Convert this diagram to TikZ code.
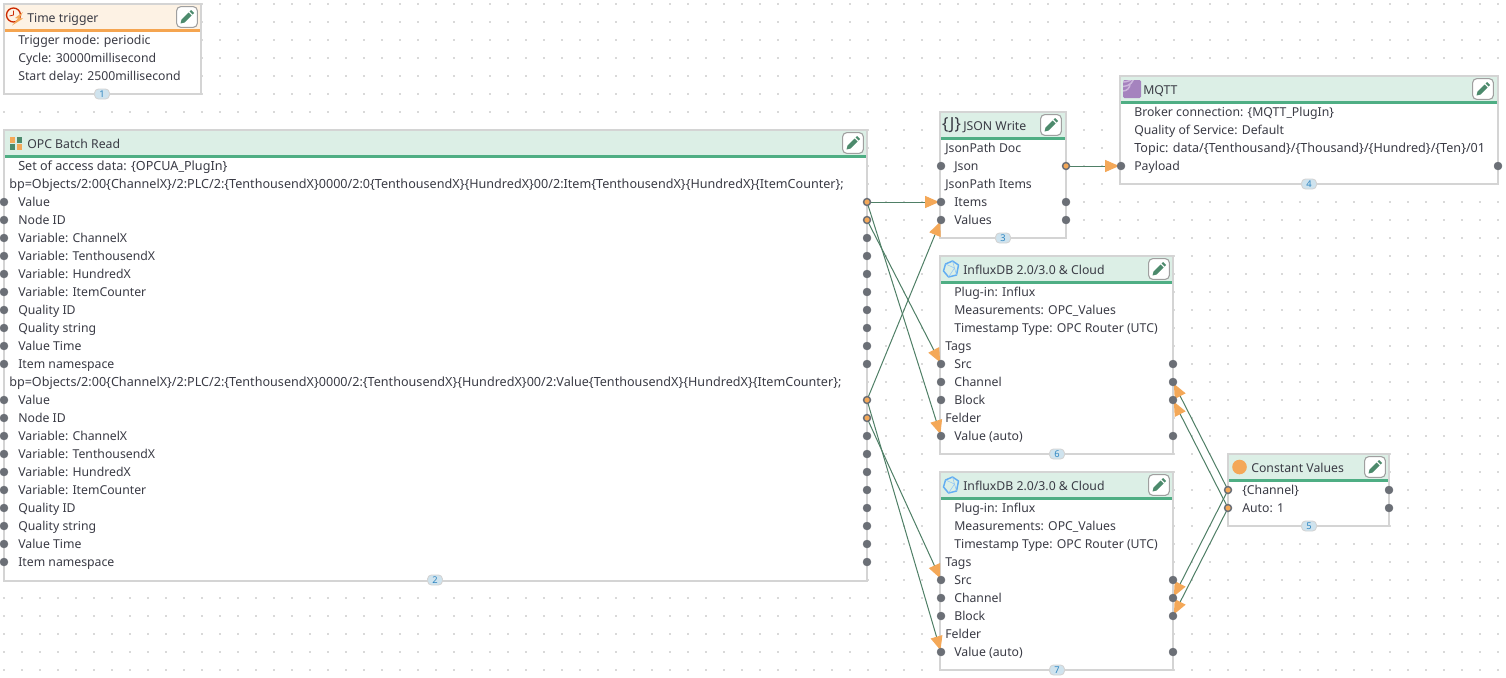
\documentclass[tikz,border=0pt]{standalone}
\usepackage{fontspec}
\setmainfont{Noto Sans}
\usetikzlibrary{arrows.meta}
\pgfdeclarelayer{front}
\pgfsetlayers{main,front}
\definecolor{blockline}{HTML}{D4D4D4}
\definecolor{headgreen}{HTML}{DCEFE6}
\definecolor{rulegreen}{HTML}{4FAE84}
\definecolor{headorange}{HTML}{FDF2E4}
\definecolor{ruleorange}{HTML}{F5A550}
\definecolor{portgrey}{HTML}{6B6F76}
\definecolor{tiporange}{HTML}{F4A858}
\definecolor{wiregreen}{HTML}{4F7F66}
\definecolor{inkgrey}{HTML}{3A3B45}
\definecolor{griddot}{HTML}{D9D9D9}
\definecolor{pengreen}{HTML}{4C8A6C}
\definecolor{badgefill}{HTML}{CFE3EE}
\definecolor{badgeink}{HTML}{2F86C1}
\definecolor{hexblue}{HTML}{62ADF2}
\definecolor{mqttpurple}{HTML}{A583BE}
\definecolor{mqttlight}{HTML}{CDB7DC}
\tikzset{
  x=0.75pt, y=-0.75pt,
  blockbox/.style={draw=blockline,line width=1.5pt,fill=white,inner sep=0pt,outer sep=0pt,anchor=north west},
  rowtext/.style={anchor=base west,yshift=-3.3pt,inner sep=0pt,text=inkgrey,font=\fontsize{9.2}{11}\selectfont},
  bracetext/.style={rowtext,font=\fontsize{9.45}{11}\selectfont},
  titletext/.style={rowtext,yshift=-0.7pt},
  port/.style={circle,fill=portgrey,draw=portgrey,inner sep=0pt,outer sep=0pt,minimum size=6pt,line width=0.3pt},
  liveport/.style={circle,fill=tiporange,draw=portgrey,inner sep=0pt,outer sep=0pt,minimum size=5.2pt,line width=1.1pt},
  wire/.style={draw=wiregreen,line width=0.75pt,shorten >=1.4pt,
    -{Triangle[length=10.5pt,width=9pt,color=tiporange,fill=tiporange]}},
  editbutton/.style={draw=gray!75,line width=0.8pt,fill=white,rounded corners=3pt,minimum size=15.5pt,inner sep=0pt},
  badge/.style={draw=blockline,line width=0.7pt,fill=badgefill,rounded corners=3pt,minimum width=11.2pt,minimum height=7.5pt,inner sep=0pt,text=badgeink,font=\fontsize{7}{7}\selectfont},
}
% name x1 y1 x2 y2 headerfill rulecolor
\newcommand\flowblock[7]{%
  \pgfmathsetmacro\blockw{(#4-#2)*0.75}\pgfmathsetmacro\blockh{(#5-#3)*0.75}%
  \node[blockbox,minimum width=\blockw pt,minimum height=\blockh pt] (#1) at (#2,#3) {};
  \fill[#6] (#2+1,#3+1) rectangle (#4-1,#3+25);
  \fill[#7] (#2+1,#3+25) rectangle (#4-1,#3+27.5);
}
\newcommand\editpen[2]{%
  \node[editbutton] (#1) at (#2) {};
  \begin{scope}[shift={(#2)}]
    \fill[pengreen] (-6.5,6.5) -- (-5.5,2.5) -- (1.5,-4.5) -- (4.5,-1.5) -- (-2.5,5.5) -- cycle;
    \fill[pengreen] (2.5,-5.5) -- (4,-7) -- (7,-4) -- (5.5,-2.5) -- cycle;
  \end{scope}
}
\newcommand\tline[4]{\node[rowtext] (#1) at (#2,#3) {#4};}
\newcommand\bline[4]{\node[bracetext] (#1) at (#2,#3) {#4};}
\begin{document}
\begin{tikzpicture}
\useasboundingbox (0,0) rectangle (1506,678);
\fill[white] (0,0) rectangle (1506,678);
% grid
\foreach \i in {0,...,83}{\foreach \j in {0,...,37}{
  \fill[griddot] ({3.2+18*\i},{3.2+18*\j}) rectangle ++(1.7,1.7);
}}
% blocks
\flowblock{trig}{4}{4}{201}{94}{headorange}{ruleorange}
\flowblock{opc}{4}{130}{867}{581}{headgreen}{rulegreen}
\flowblock{jsonw}{940}{112}{1066}{238}{headgreen}{rulegreen}
\flowblock{mqtt}{1120}{76}{1498}{184}{headgreen}{rulegreen}
\flowblock{infa}{940}{256}{1173}{454}{headgreen}{rulegreen}
\flowblock{infb}{940}{472}{1173}{670}{headgreen}{rulegreen}
\flowblock{const}{1228}{454}{1389}{526}{headgreen}{rulegreen}
% edit buttons
\editpen{trigpen}{187,17}
\editpen{opcpen}{853,143}
\editpen{jsonpen}{1051,125}
\editpen{mqttpen}{1483,89}
\editpen{infapen}{1159,269}
\editpen{infbpen}{1159,485}
\editpen{constpen}{1375,467}
% badges
\node[badge] (b1) at (102,94) {1};
\node[badge] (b2) at (435,580) {2};
\node[badge] (b3) at (1003,238) {3};
\node[badge] (b4) at (1309,184) {4};
\node[badge] (b5) at (1309,526) {5};
\node[badge] (b6) at (1057,454) {6};
\node[badge] (b7) at (1057,670) {7};
% icons
\draw[draw=red!60!orange!80!black,line width=1pt] (13.5,15) circle (7);
\draw[draw=red!60!orange!80!black,line width=0.6pt] (13.5,10.5) -- (13.5,15) -- (9.5,16);
\fill[tiporange] (23,12) -- (15,18) -- (18,18.5) -- (12,25.5) -- (23,18.5) -- (19.5,18) -- cycle;
\fill[tiporange] (9.5,137) rectangle ++(5.5,5.5);
\fill[pengreen] (16.5,137) rectangle ++(5.5,5.5);
\fill[pengreen] (9.5,144) rectangle ++(5.5,5.5);
\fill[tiporange] (16.5,144) rectangle ++(5.5,5.5);
\node[font=\fontsize{12.5}{14}\selectfont,text=inkgrey,inner sep=0pt] (jsonicon) at (951.5,125) {\{J\}};
\fill[mqttpurple,rounded corners=1pt] (1123,80) rectangle (1141,98);
\begin{scope}
  \clip (1123,80) rectangle (1141,98);
  \foreach \r in {7,11.5,16}{\draw[mqttlight,line width=1.1pt] (1123,98) ++(0,-\r) arc[start angle=90,end angle=0,radius=\r];}
\end{scope}
\foreach \c in {951.5}{\foreach \yy in {269,485}{
  \draw[hexblue,line width=1.1pt,line join=round] (\c+7,\yy-4) -- (\c+1,\yy-8) -- (\c-6,\yy-5) -- (\c-8,\yy+2) -- (\c-3,\yy+8) -- (\c+5,\yy+6) -- cycle;
  \draw[hexblue!70,line width=0.4pt] (\c-6,\yy-5) -- (\c+3,\yy-1) -- (\c+5,\yy+6) (\c+3,\yy-1) -- (\c-3,\yy+8) (\c+1,\yy-8) -- (\c+3,\yy-1);
}}
\fill[tiporange] (1239.5,467) circle (7.3);
% titles
\node[titletext] (t1) at (27,17) {Time trigger};
\node[titletext] (t2) at (27,143) {OPC Batch Read};
\node[titletext] (t3) at (963,125) {JSON Write};
\node[titletext] (t4) at (1143,89) {MQTT};
\node[titletext] (t6) at (963,269) {InfluxDB 2.0/3.0 \& Cloud};
\node[titletext] (t7) at (963,485) {InfluxDB 2.0/3.0 \& Cloud};
\node[titletext] (t5) at (1251,467) {Constant Values};
% time trigger
\tline{a1}{18}{40}{Trigger mode: periodic}
\tline{a2}{18}{58}{Cycle: 30000millisecond}
\tline{a3}{18}{76}{Start delay: 2500millisecond}
% OPC
\bline{o0}{18}{166}{Set of access data: \{OPCUA\_PlugIn\}}
\bline{oh1}{9}{184}{bp=Objects/2:00\{ChannelX\}/2:PLC/2:\{TenthousendX\}0000/2:0\{TenthousendX\}\{HundredX\}00/2:Item\{TenthousendX\}\{HundredX\}\{ItemCounter\};}
\bline{oh2}{9}{382}{bp=Objects/2:00\{ChannelX\}/2:PLC/2:\{TenthousendX\}0000/2:\{TenthousendX\}\{HundredX\}00/2:Value\{TenthousendX\}\{HundredX\}\{ItemCounter\};}
\foreach \base/\tag in {202/u,400/v}{
  \foreach \k/\lab in {0/Value,1/Node ID,2/Variable: ChannelX,3/Variable: TenthousendX,4/Variable: HundredX,5/Variable: ItemCounter,6/Quality ID,7/Quality string,8/Value Time,9/Item namespace}{
    \pgfmathsetmacro\yy{\base+18*\k}
    \node[rowtext] (o\tag\k) at (18,\yy) {\lab};
  }
}
% JSON
\tline{j1}{945}{148}{JsonPath Doc}
\tline{j2}{954}{166}{Json}
\tline{j3}{945}{184}{JsonPath Items}
\tline{j4}{954}{202}{Items}
\tline{j5}{954}{220}{Values}
% MQTT
\tline{m1}{1134}{112}{Broker connection: \{MQTT\_PlugIn\}}
\tline{m2}{1134}{130}{Quality of Service: Default}
\bline{m3}{1134}{148}{Topic: data/\{Tenthousand\}/\{Thousand\}/\{Hundred\}/\{Ten\}/01}
\tline{m4}{1134}{166}{Payload}
% Influx
\foreach \off/\tag in {0/p,216/q}{
  \pgfmathsetmacro\ya{292+\off}\node[rowtext] (\tag1) at (954,\ya) {Plug-in: Influx};
  \pgfmathsetmacro\ya{310+\off}\node[rowtext] (\tag2) at (954,\ya) {Measurements: OPC\_Values};
  \pgfmathsetmacro\ya{328+\off}\node[rowtext] (\tag3) at (954,\ya) {Timestamp Type: OPC Router (UTC)};
  \pgfmathsetmacro\ya{346+\off}\node[rowtext] (\tag4) at (945,\ya) {Tags};
  \pgfmathsetmacro\ya{364+\off}\node[rowtext] (\tag5) at (954,\ya) {Src};
  \pgfmathsetmacro\ya{382+\off}\node[rowtext] (\tag6) at (954,\ya) {Channel};
  \pgfmathsetmacro\ya{400+\off}\node[rowtext] (\tag7) at (954,\ya) {Block};
  \pgfmathsetmacro\ya{418+\off}\node[rowtext] (\tag8) at (945,\ya) {Felder};
  \pgfmathsetmacro\ya{436+\off}\node[rowtext] (\tag9) at (954,\ya) {Value (auto)};
}
% Constant
\tline{c1}{1242}{490}{\{Channel\}}
\tline{c2}{1242}{508}{Auto: 1}
% ports
\begin{pgfonlayer}{front}
\foreach \y in {202,220,...,364,400,418,...,562}{\node[port] (opcL\y) at (4,\y) {};}
\foreach \y in {238,256,...,364,436,454,...,562}{\node[port] (opcR\y) at (867,\y) {};}
\foreach \y in {202,220,400,418}{\node[liveport] (opcR\y) at (867,\y) {};}
\foreach \y in {166,202,220}{\node[port] (jsonL\y) at (941,\y) {};}
\node[liveport] (jsonR166) at (1066,166) {};
\foreach \y in {202,220}{\node[port] (jsonR\y) at (1066,\y) {};}
\node[port] (mqttL166) at (1121,166) {};
\node[port] (mqttR166) at (1498,166) {};
\foreach \y in {364,382,400,436,580,598,616,652}{
  \node[port] (inL\y) at (941,\y) {};
  \node[port] (inR\y) at (1173,\y) {};
}
\foreach \y in {490,508}{
  \node[liveport] (conL\y) at (1228,\y) {};
  \node[port] (conR\y) at (1389,\y) {};
}
\end{pgfonlayer}
% connectors
\draw[wire] (opcR202.center) -- (jsonL202.center);
\draw[wire] (opcR202.center) -- (inL436.center);
\draw[wire] (opcR220.center) -- (inL364.center);
\draw[wire] (opcR400.center) -- (jsonL220.center);
\draw[wire] (opcR400.center) -- (inL652.center);
\draw[wire] (opcR418.center) -- (inL580.center);
\draw[wire] (jsonR166.center) -- (mqttL166.center);
\draw[wire] (conL490.center) -- (inR382.center);
\draw[wire] (conL508.center) -- (inR400.center);
\draw[wire] (conL490.center) -- (inR598.center);
\draw[wire] (conL508.center) -- (inR616.center);
\end{tikzpicture}
\end{document}
